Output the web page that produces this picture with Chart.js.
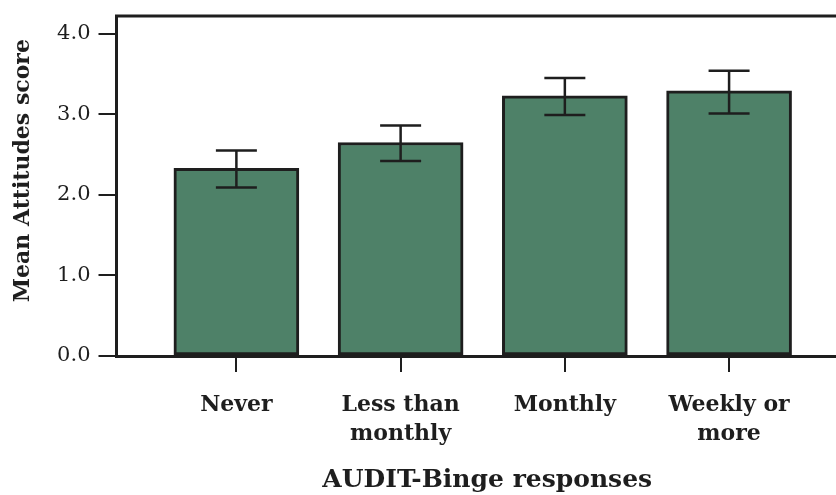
<!DOCTYPE html>
<html>
<head>
<meta charset="utf-8">
<script src="https://cdn.jsdelivr.net/npm/chart.js@4"></script>
<style>
html,body{margin:0;padding:0;background:#fff;overflow:hidden;}
#wrap{width:836px;height:495px;overflow:hidden;}
</style>
</head>
<body>
<div id="wrap"><canvas id="c" width="858" height="495"></canvas></div>
<script>
const categories = ["Never", "Less than monthly", "Monthly", "Weekly or more"];
const tickLabels = [["Never"], ["Less than", "monthly"], ["Monthly"], ["Weekly or", "more"]];
const meanScores = [2.33, 2.65, 3.23, 3.29];
const errorUpper = [2.55, 2.86, 3.45, 3.54];
const errorLower = [2.09, 2.42, 2.99, 3.01];
const yTicks = [0, 1, 2, 3, 4];

const SERIF = "'DejaVu Serif', 'Liberation Serif', serif";
const INK = '#1e1e1e';

const errorBars = {
  id: 'errorBars',
  afterDatasetsDraw(chart) {
    const {ctx, scales: {x, y}} = chart;
    ctx.save();
    ctx.strokeStyle = INK;
    ctx.lineWidth = 2.5;
    categories.forEach((c, i) => {
      const px = x.getPixelForValue(i);
      const top = y.getPixelForValue(errorUpper[i]);
      const bot = y.getPixelForValue(errorLower[i]);
      const half = 20.5;
      ctx.beginPath();
      ctx.moveTo(px, top); ctx.lineTo(px, bot);
      ctx.moveTo(px - half, top); ctx.lineTo(px + half, top);
      ctx.moveTo(px - half, bot); ctx.lineTo(px + half, bot);
      ctx.stroke();
    });
    ctx.restore();
  }
};

const topFrame = {
  id: 'topFrame',
  afterDraw(chart) {
    const {ctx, chartArea} = chart;
    ctx.save();
    ctx.strokeStyle = INK;
    ctx.lineWidth = 3;
    ctx.beginPath();
    ctx.moveTo(chartArea.left - 1.5, chartArea.top);
    ctx.lineTo(chartArea.right + 2, chartArea.top);
    ctx.stroke();
    ctx.restore();
  }
};

function noPad(s) {
  s.paddingTop = 0; s.paddingBottom = 0; s.paddingLeft = 0; s.paddingRight = 0;
}

new Chart(document.getElementById('c'), {
  type: 'bar',
  data: {
    datasets: [{
      data: categories.map((c, i) => ({x: i, y: meanScores[i]})),
      backgroundColor: '#4e8168',
      borderColor: INK,
      borderWidth: 3,
      borderSkipped: false,
      barThickness: 125
    }]
  },
  plugins: [errorBars, topFrame],
  options: {
    responsive: false,
    animation: false,
    devicePixelRatio: 1,
    layout: {padding: {top: 16, right: 0, left: 0, bottom: 0}},
    plugins: {legend: {display: false}, tooltip: {enabled: false}},
    scales: {
      x: {
        type: 'linear',
        offset: false,
        min: -0.73,
        max: 3.785,
        afterBuildTicks(s) { s.ticks = categories.map((c, i) => ({value: i})); },
        afterFit(s) { s.height = 139; noPad(s); },
        ticks: {
          autoSkip: false,
          maxRotation: 0,
          padding: 19,
          color: INK,
          font: {family: SERIF, size: 22, weight: 'bold', lineHeight: 1.32},
          callback: (v) => tickLabels[v]
        },
        grid: {offset: false, drawOnChartArea: false, drawTicks: true, tickLength: 16, color: INK, lineWidth: 2},
        border: {display: true, color: INK, width: 3},
        title: {
          display: true,
          text: 'AUDIT-Binge responses',
          color: INK,
          font: {family: SERIF, size: 25, weight: 'bold'},
          padding: {top: 0, bottom: 0}
        }
      },
      y: {
        min: 0,
        max: 4.22,
        afterBuildTicks(s) { s.ticks = yTicks.map(v => ({value: v})); },
        afterFit(s) { s.width = 116.5; noPad(s); },
        ticks: {
          padding: 8,
          color: INK,
          font: {family: SERIF, size: 21},
          callback: (v) => Number(v).toFixed(1)
        },
        grid: {drawOnChartArea: false, drawTicks: true, tickLength: 18, color: INK, lineWidth: 2},
        border: {display: true, color: INK, width: 3},
        title: {
          display: true,
          text: '    Mean Attitudes score',
          color: INK,
          font: {family: SERIF, size: 22, weight: 'bold'},
          padding: {top: 10, bottom: 0}
        }
      }
    }
  }
});
</script>
</body>
</html>
